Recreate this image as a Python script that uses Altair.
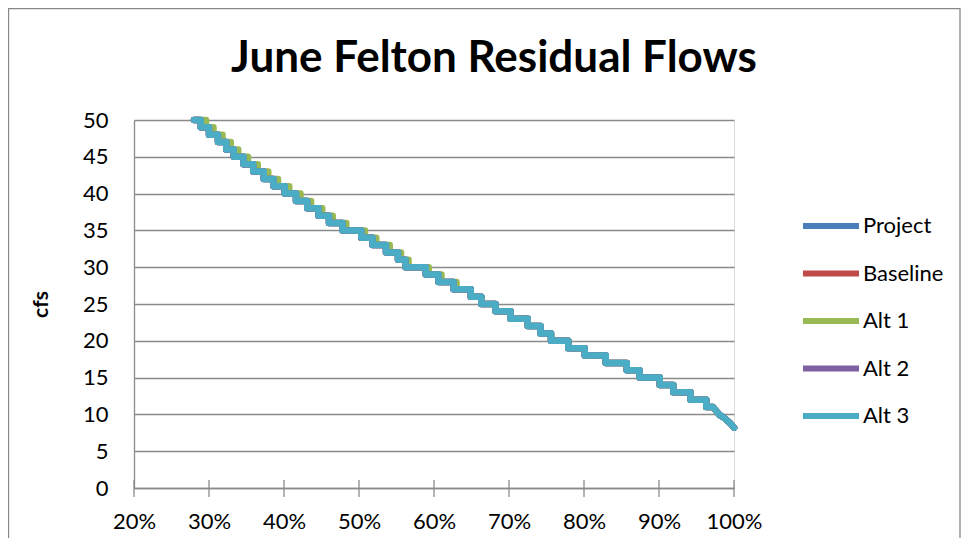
import altair as alt
import pandas as pd

series_names = ["Project", "Baseline", "Alt 1", "Alt 2", "Alt 3"]
series_colors = ["#4A7EBB", "#BE4B48", "#98B954", "#7D60A0", "#4BACC6"]

# flow levels (cfs) of the duration-curve steps
levels = list(range(50, 10, -1))

# exceedance (fraction of time) where each step starts / ends
main_start = 0.280
main_ends = [0.289, 0.300, 0.312, 0.323, 0.333, 0.346, 0.359, 0.373, 0.386, 0.401,
             0.416, 0.431, 0.446, 0.460, 0.478, 0.503, 0.518, 0.536, 0.552, 0.562,
             0.589, 0.606, 0.626, 0.649, 0.663, 0.682, 0.702, 0.725, 0.742, 0.756,
             0.779, 0.801, 0.829, 0.857, 0.874, 0.901, 0.919, 0.942, 0.963, 0.972]

alt1_start = 0.284
alt1_ends = [0.296, 0.306, 0.318, 0.329, 0.339, 0.352, 0.365, 0.379, 0.392, 0.407,
             0.422, 0.436, 0.451, 0.465, 0.483, 0.508, 0.523, 0.541, 0.556, 0.566,
             0.593, 0.610, 0.630, 0.649, 0.663, 0.682, 0.702, 0.725, 0.742, 0.756,
             0.779, 0.801, 0.829, 0.857, 0.874, 0.901, 0.919, 0.942, 0.963, 0.972]

# low-flow tail (no longer stepped)
tail_pct = [0.976, 0.981, 0.986, 0.990, 0.995, 1.000]
tail_cfs = [10.5, 9.9, 9.6, 9.25, 8.8, 8.2]

series_curves = {
    "Project": (main_start, main_ends),
    "Baseline": (main_start, main_ends),
    "Alt 1": (alt1_start, alt1_ends),
    "Alt 2": (main_start, main_ends),
    "Alt 3": (main_start, main_ends),
}

x_ticks = [0.2, 0.3, 0.4, 0.5, 0.6, 0.7, 0.8, 0.9, 1.0]
y_ticks = [0, 5, 10, 15, 20, 25, 30, 35, 40, 45, 50]

rows = []
for name in series_names:
    start, ends = series_curves[name]
    k = 0
    prev = start
    for lev, end in zip(levels, ends):
        rows.append({"series": name, "pct": prev, "cfs": lev, "k": k}); k += 1
        rows.append({"series": name, "pct": end, "cfs": lev, "k": k}); k += 1
        prev = end
    for p, c in zip(tail_pct, tail_cfs):
        rows.append({"series": name, "pct": p, "cfs": c, "k": k}); k += 1
df = pd.DataFrame(rows)

FONT = "Lato"
GRID = "#8a8a8a"

x_enc = alt.X("pct:Q",
              scale=alt.Scale(domain=[0.2, 1.0], nice=False, zero=False),
              axis=alt.Axis(format=".0%", values=x_ticks, grid=False, ticks=False, tickSize=0,
                            labelPadding=23, labelFontSize=22, labelFont=FONT, labelColor="black",
                            labelOverlap=False, labelFlush=False,
                            domainColor=GRID, domainWidth=1.3, title=None))
y_enc = alt.Y("cfs:Q",
              scale=alt.Scale(domain=[0, 50], nice=False),
              axis=alt.Axis(values=y_ticks, grid=True, gridColor=GRID, gridWidth=1.3,
                            ticks=False, tickSize=0, labelPadding=26, labelFontSize=22,
                            labelFont=FONT, labelColor="black", labelOverlap=False,
                            domainColor=GRID, domainWidth=1.3,
                            title="cfs", titleFont=FONT, titleFontSize=21, titleFontWeight="bold",
                            titleColor="black", titleAngle=270, titleX=-93, titleY=184,
                            titleAlign="center", titleBaseline="middle"))
color_enc = alt.Color("series:N",
                      scale=alt.Scale(domain=series_names, range=series_colors),
                      legend=alt.Legend(orient="none", legendX=666, legendY=86, title=None,
                                        symbolType="stroke", symbolSize=3136, symbolStrokeWidth=6,
                                        symbolOffset=0, labelOffset=1, labelFont=FONT,
                                        labelFontSize=22, labelColor="black", clipHeight=40,
                                        rowPadding=7.5, padding=0))

layers = []
for name in series_names:
    layers.append(
        alt.Chart(df).transform_filter(alt.datum.series == name)
        .mark_line(strokeWidth=6.5, strokeCap="round", strokeJoin="round")
        .encode(x=x_enc, y=y_enc, color=color_enc, order="k:Q")
    )

ticks = alt.Chart(pd.DataFrame({"pct": x_ticks})).mark_rule(color=GRID, strokeWidth=1.3).encode(
    x=alt.X("pct:Q"), y=alt.value(360), y2=alt.value(377))

frame = alt.Chart(pd.DataFrame({"a": [0]})).mark_rect(
    fillOpacity=0, stroke="#878787", strokeWidth=1.3).encode(
    x=alt.value(-125.5), x2=alt.value(826), y=alt.value(-111.5), y2=alt.value(460))

chart = alt.layer(frame, ticks, *layers).properties(
    width=600, height=368,
    title=alt.TitleParams("June Felton Residual Flows", font=FONT, fontSize=44,
                          fontWeight="bold", color="black", anchor="middle",
                          frame="group", dx=60, offset=-73.5),
    autosize=alt.AutoSizeParams(type="none"),
    padding={"left": 126, "top": 112, "right": 227, "bottom": 50},
).configure_view(strokeWidth=0).configure(font=FONT, background="white")

chart.save("out.html", embed_options={"renderer": "svg", "actions": False})
